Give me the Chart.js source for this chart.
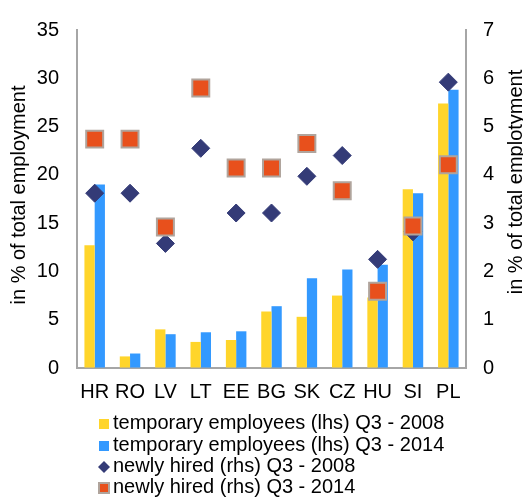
<!DOCTYPE html>
<html>
<head>
<meta charset="utf-8">
<script src="https://cdn.jsdelivr.net/npm/chart.js@4"></script>
<style>
  html, body { margin: 0; padding: 0; background: #fff; }
  #wrap { width: 523px; height: 497px; position: relative; }
</style>
</head>
<body>
<div id="wrap"><canvas id="chartCanvas" width="523" height="497"></canvas></div>
<script>
// 국가
const countries = ['HR', 'RO', 'LV', 'LT', 'EE', 'BG', 'SK', 'CZ', 'HU', 'SI', 'PL'];

// temporary employees (lhs)
const temp2008 = [12.7, 1.2, 4.0, 2.7, 2.9, 5.85, 5.3, 7.5, 7.3, 18.5, 27.4];
const temp2014 = [19.0, 1.5, 3.5, 3.7, 3.8, 6.4, 9.3, 10.2, 10.7, 18.1, 28.8];

// newly hired (rhs)
const hired2008 = [3.62, 3.62, 2.58, 4.55, 3.21, 3.21, 3.97, 4.4, 2.25, 2.82, 5.92];
const hired2014 = [4.74, 4.74, 2.92, 5.8, 4.14, 4.14, 4.65, 3.67, 1.59, 2.94, 4.21];

// 축 범위
const leftTicks = [0, 35, 5];
const rightTicks = [0, 7, 1];

const legendLabels = [
    'temporary employees (lhs) Q3 - 2008',
    'temporary employees (lhs) Q3 - 2014',
    'newly hired (rhs) Q3 - 2008',
    'newly hired (rhs) Q3 - 2014'
];

const yellow = '#FFD52B';
const blue = '#3399FF';
const navy = '#343B77';
const orange = '#E8501C';
const squareEdge = '#B0A49C';
const axisGrey = '#A6A6A6';
const font = 'Liberation Sans, Arial, sans-serif';

// 축 제목 + 범례 그리기
const extraDraw = {
    id: 'extraDraw',
    afterDraw(chart) {
        const ctx = chart.ctx;
        ctx.save();
        ctx.fillStyle = '#000';
        ctx.font = '20px ' + font;
        ctx.textAlign = 'center';
        ctx.textBaseline = 'middle';

        // 왼쪽 축 제목
        ctx.save();
        ctx.translate(19, 195);
        ctx.rotate(-Math.PI / 2);
        ctx.fillText('in % of total employment', 0, 0);
        ctx.restore();

        // 오른쪽 축 제목 (아래에서 위로)
        ctx.save();
        ctx.translate(516, 182);
        ctx.rotate(-Math.PI / 2);
        ctx.fillText('in % of total emplotyment', 0, 0);
        ctx.restore();

        // 범례
        const rows = [423, 445, 466, 487];
        ctx.textAlign = 'left';
        for (let i = 0; i < legendLabels.length; i++) {
            const y = rows[i];
            if (i === 0 || i === 1) {
                ctx.fillStyle = i === 0 ? yellow : blue;
                ctx.fillRect(99, y - 4, 10, 10);
            } else if (i === 2) {
                ctx.fillStyle = navy;
                ctx.beginPath();
                ctx.moveTo(104, y - 5);
                ctx.lineTo(110, y + 1);
                ctx.lineTo(104, y + 7);
                ctx.lineTo(98, y + 1);
                ctx.closePath();
                ctx.fill();
            } else {
                ctx.fillStyle = squareEdge;
                ctx.fillRect(98, y - 5, 12, 12);
                ctx.fillStyle = orange;
                ctx.fillRect(100, y - 3, 8, 8);
            }
            ctx.fillStyle = '#000';
            ctx.fillText(legendLabels[i], 113, y);
        }
        ctx.restore();
    }
};

const ctx = document.getElementById('chartCanvas').getContext('2d');

new Chart(ctx, {
    data: {
        labels: countries,
        datasets: [
            {
                type: 'line',
                label: legendLabels[3],
                data: hired2014,
                yAxisID: 'y1',
                showLine: false,
                pointStyle: 'rect',
                pointRadius: 12,
                pointBackgroundColor: orange,
                pointBorderColor: squareEdge,
                pointBorderWidth: 2,
                order: 0
            },
            {
                type: 'line',
                label: legendLabels[2],
                data: hired2008,
                yAxisID: 'y1',
                showLine: false,
                pointStyle: 'rectRot',
                pointRadius: 9,
                pointBackgroundColor: navy,
                pointBorderColor: navy,
                pointBorderWidth: 1,
                order: 1
            },
            {
                type: 'bar',
                label: legendLabels[0],
                data: temp2008,
                yAxisID: 'y',
                backgroundColor: yellow,
                categoryPercentage: 0.58,
                barPercentage: 1,
                order: 2
            },
            {
                type: 'bar',
                label: legendLabels[1],
                data: temp2014,
                yAxisID: 'y',
                backgroundColor: blue,
                categoryPercentage: 0.58,
                barPercentage: 1,
                order: 2
            }
        ]
    },
    options: {
        responsive: false,
        animation: false,
        layout: { padding: { top: 22, bottom: 89, left: 0, right: 0 } },
        plugins: {
            legend: { display: false },
            tooltip: { enabled: false }
        },
        scales: {
            x: {
                grid: { drawOnChartArea: false, drawTicks: false },
                border: { color: axisGrey, width: 2 },
                ticks: { color: '#000', font: { family: font, size: 20 }, padding: 12, maxRotation: 0 },
                afterFit(scale) { scale.height = 40; }
            },
            y: {
                position: 'left',
                min: leftTicks[0],
                max: leftTicks[1],
                grid: { drawOnChartArea: false, drawTicks: false },
                border: { color: axisGrey, width: 2 },
                ticks: { stepSize: leftTicks[2], color: '#000', font: { family: font, size: 20 }, padding: 18 },
                afterFit(scale) { scale.width = 77; }
            },
            y1: {
                position: 'right',
                min: rightTicks[0],
                max: rightTicks[1],
                grid: { drawOnChartArea: false, drawTicks: false },
                border: { color: axisGrey, width: 2 },
                ticks: { stepSize: rightTicks[2], color: '#000', font: { family: font, size: 20 }, padding: 17 },
                afterFit(scale) { scale.width = 57; }
            }
        }
    },
    plugins: [extraDraw]
});
</script>
</body>
</html>
